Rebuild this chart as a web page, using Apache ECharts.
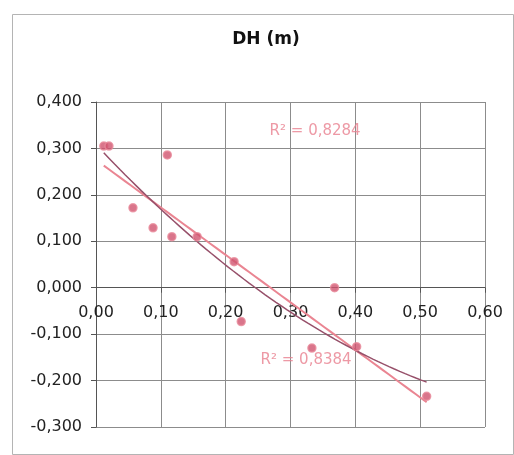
<!DOCTYPE html>
<html>
<head>
<meta charset="utf-8">
<script src="https://cdn.jsdelivr.net/npm/echarts@6/dist/echarts.min.js"></script>
<style>
  html, body { margin: 0; padding: 0; background: #ffffff; }
  #chart { width: 514px; height: 455px; }
</style>
</head>
<body>
<div id="chart"></div>
<script>
// Measured points: horizontal value and DH (m)
const dhX = [0.012, 0.020, 0.057, 0.088, 0.110, 0.117, 0.156, 0.213, 0.224, 0.333, 0.368, 0.402, 0.510];
const dhY = [0.305, 0.305, 0.172, 0.129, 0.286, 0.110, 0.110, 0.056, -0.073, -0.130, 0.000, -0.127, -0.234];

// Axis ranges and tick steps
const xTicks = [0, 0.6, 0.1];
const yTicks = [-0.3, 0.4, 0.1];

// Trendline labels (linear, 2nd-order polynomial) and where they sit
const r2Labels = ['R² = 0,8284', 'R² = 0,8384'];
const r2LabelPos = [[0.338, 0.338], [0.324, -0.155]];

// Least-squares polynomial fit of given order, returns coefficients c0..cn
function polyFit(xs, ys, order) {
  const n = order + 1;
  const A = [];
  for (let i = 0; i < n; i++) {
    A.push(new Array(n + 1).fill(0));
  }
  for (let k = 0; k < xs.length; k++) {
    for (let i = 0; i < n; i++) {
      for (let j = 0; j < n; j++) A[i][j] += Math.pow(xs[k], i + j);
      A[i][n] += ys[k] * Math.pow(xs[k], i);
    }
  }
  for (let i = 0; i < n; i++) {
    let p = i;
    for (let r = i + 1; r < n; r++) if (Math.abs(A[r][i]) > Math.abs(A[p][i])) p = r;
    [A[i], A[p]] = [A[p], A[i]];
    for (let r = 0; r < n; r++) {
      if (r === i) continue;
      const f = A[r][i] / A[i][i];
      for (let c = i; c <= n; c++) A[r][c] -= f * A[i][c];
    }
  }
  return A.map((row, i) => row[n] / row[i]);
}

function fitCurve(coef) {
  const lo = Math.min(...dhX), hi = Math.max(...dhX);
  const pts = [];
  const steps = 60;
  for (let s = 0; s <= steps; s++) {
    const x = lo + (hi - lo) * s / steps;
    let y = 0;
    coef.forEach((c, i) => { y += c * Math.pow(x, i); });
    pts.push([x, y]);
  }
  return pts;
}

const linCurve = fitCurve(polyFit(dhX, dhY, 1));
const quadCurve = fitCurve(polyFit(dhX, dhY, 2));

const W = 514, H = 455;
const gridBox = { left: 96, right: 29, top: 102, bottom: 28 };
// Lift the horizontal axis from the bottom edge up to the y = 0 line
const plotH = H - gridBox.top - gridBox.bottom;
const zeroOffset = -((0 - yTicks[0]) / (yTicks[1] - yTicks[0])) * plotH;

const chart = echarts.init(document.getElementById('chart'), null, { renderer: 'canvas' });
const font = 'DejaVu Sans';

chart.setOption({
  backgroundColor: '#ffffff',
  animation: false,
  graphic: [
    {
      type: 'rect', left: 10, top: 12, silent: true,
      shape: { width: 501, height: 440 },
      style: { fill: 'none', stroke: '#b4b4b4', lineWidth: 1 }
    },
    {
      type: 'text', x: 266, y: 40, silent: true,
      style: {
        text: 'DH (m)', fontFamily: font, fontWeight: 'bold', fontSize: 17,
        fill: '#111111', align: 'center', verticalAlign: 'middle'
      }
    }
  ],
  grid: Object.assign({ show: false }, gridBox),
  xAxis: {
    type: 'value',
    position: 'bottom',
    offset: zeroOffset,
    min: xTicks[0], max: xTicks[1], interval: xTicks[2],
    axisLine: { show: true, onZero: false, lineStyle: { color: '#555555', width: 1 } },
    axisTick: { show: true, length: 5, lineStyle: { color: '#555555' } },
    axisLabel: {
      margin: 17, fontFamily: font, fontSize: 16, color: '#222222',
      formatter: v => v.toFixed(2).replace('.', ',')
    },
    splitLine: { show: true, lineStyle: { color: '#8c8c8c', width: 1 } }
  },
  yAxis: {
    type: 'value',
    min: yTicks[0], max: yTicks[1], interval: yTicks[2],
    axisLine: { show: true, onZero: false, lineStyle: { color: '#555555', width: 1 } },
    axisTick: { show: true, length: 5, lineStyle: { color: '#555555' } },
    axisLabel: {
      margin: 14, fontFamily: font, fontSize: 16, color: '#222222',
      formatter: v => v.toFixed(3).replace('.', ',')
    },
    splitLine: { show: true, lineStyle: { color: '#8c8c8c', width: 1 } }
  },
  series: [
    {
      name: 'linear', type: 'line', data: linCurve, showSymbol: false, smooth: false,
      lineStyle: { color: '#ea8592', width: 2 }, z: 3
    },
    {
      name: 'poly', type: 'line', data: quadCurve, showSymbol: false, smooth: false,
      lineStyle: { color: '#97506a', width: 1.5 }, z: 3
    },
    {
      name: 'DH (m)', type: 'scatter', data: dhX.map((x, i) => [x, dhY[i]]),
      symbol: 'circle', symbolSize: 8,
      itemStyle: { color: '#cf536e', borderColor: '#e88b9b', borderWidth: 1.5 }, z: 4
    },
    {
      name: 'r2', type: 'scatter', symbolSize: 0, silent: true, z: 5,
      data: r2LabelPos.map((p, i) => ({ value: p, name: r2Labels[i] })),
      label: {
        show: true, position: 'inside', formatter: p => p.name,
        fontFamily: font, fontSize: 15, color: '#e8808e'
      }
    }
  ]
});
</script>
</body>
</html>
